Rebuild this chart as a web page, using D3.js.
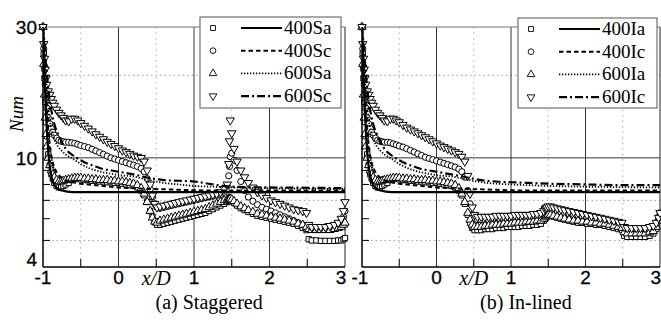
<!DOCTYPE html>
<html><head><meta charset="utf-8">
<script src="https://cdn.jsdelivr.net/npm/d3@7"></script>
<style>body{margin:0;background:#fff} svg{display:block}</style>
</head><body><svg id="c" width="661" height="320"></svg>
<script>
// ---------- axes / ticks ----------
const xTickLabels = [-1, 0, 1, 2, 3];
const yTickLabels = [4, 10, 30];
const yMinorTicks = [5, 6, 7, 8, 9, 20];
const yDotGrid = [5, 7, 20];
const ySolidGrid = [10];
const xSolidGrid = [0, 1, 2];
const xHalfTicks = [-0.5, 0.5, 1.5, 2.5];
const seriesA = ["400Sa", "400Sc", "600Sa", "600Sc"];
const seriesB = ["400Ia", "400Ic", "600Ia", "600Ic"];

// ---------- symbol data: shared x positions ----------
const xGrid = [-1,-0.99,-0.98,-0.97,-0.96,-0.95,-0.93,-0.91,-0.89,-0.87,-0.85,-0.82,-0.79,-0.76,-0.73,-0.7,
 -0.66,-0.62,-0.58,-0.54,-0.5,-0.45,-0.4,-0.35,-0.3,-0.25,-0.2,-0.15,-0.1,-0.05,
 0,0.05,0.1,0.15,0.2,0.25,0.3,0.34,0.38,0.42,0.45,0.48,0.51,
 0.55,0.6,0.65,0.7,0.75,0.8,0.85,0.9,0.95,1.0,1.05,1.1,1.15,1.2,1.25,1.3,1.35,1.4,
 1.44,1.46,1.47,1.48,1.5,1.53,1.57,1.62,1.67,1.72,
 1.78,1.84,1.9,1.96,2.02,2.08,2.14,2.2,2.26,2.32,2.38,2.44,2.49,
 2.52,2.56,2.62,2.68,2.74,2.8,2.86,2.91,2.95,2.98,3.0];

// (a) Staggered
const a_400Sa = [30,24,19.5,16,13.5,12,10.3,9.4,8.8,8.4,8.1,7.9,7.8,7.8,7.9,8.0,
 8.1,8.3,8.4,8.4,8.35,8.3,8.3,8.25,8.25,8.2,8.2,8.15,8.15,8.1,
 8.1,8.05,8.0,7.95,7.9,7.8,7.6,7.3,6.9,6.4,6.1,5.85,5.7,
 5.7,5.75,5.8,5.85,5.9,5.95,6.0,6.05,6.1,6.15,6.2,6.25,6.3,6.4,6.5,6.6,6.7,6.8,
 6.9,6.95,7.0,7.0,6.95,6.85,6.7,6.55,6.45,6.35,
 6.25,6.15,6.1,6.05,6.0,5.95,5.9,5.85,5.8,5.75,5.65,5.55,5.45,
 5.05,5.0,5.0,4.98,4.98,4.98,4.98,5.0,5.0,5.05,5.1];
const a_400Sc = [30,25,21,18.5,16.5,15.2,14,13.3,12.8,12.4,12.1,11.8,11.6,11.5,11.45,11.4,
 11.4,11.35,11.3,11.2,11.1,11.0,10.9,10.75,10.6,10.45,10.3,10.15,10.0,9.9,
 9.8,9.7,9.6,9.5,9.4,9.3,9.15,8.9,8.4,7.7,7.2,6.8,6.6,
 6.55,6.6,6.65,6.7,6.75,6.8,6.85,6.9,6.95,7.0,7.05,7.1,7.15,7.2,7.25,7.3,7.35,7.5,
 7.9,8.6,9.3,10.1,10.4,9.8,9.0,8.2,7.6,7.2,
 6.95,6.75,6.6,6.5,6.4,6.3,6.2,6.1,6.0,5.9,5.8,5.7,5.6,
 5.55,5.55,5.55,5.55,5.6,5.6,5.65,5.7,5.85,6.1,6.4];
const a_600Sa = [30,22,17,14,12.2,11,10,9.4,9.0,8.7,8.5,8.3,8.2,8.2,8.25,8.3,
 8.35,8.4,8.45,8.45,8.45,8.4,8.4,8.35,8.35,8.3,8.3,8.3,8.25,8.25,
 8.2,8.2,8.15,8.1,8.05,7.95,7.75,7.4,6.9,6.4,6.05,5.85,5.8,
 5.9,5.95,6.0,6.05,6.1,6.15,6.2,6.25,6.3,6.35,6.4,6.45,6.5,6.6,6.7,6.8,6.9,7.0,
 7.05,7.1,7.1,7.1,7.05,6.95,6.8,6.65,6.55,6.45,
 6.35,6.25,6.2,6.15,6.1,6.05,6.0,5.95,5.9,5.85,5.75,5.7,5.6,
 5.5,5.45,5.45,5.45,5.45,5.45,5.5,5.55,5.6,5.7,5.8];
const a_600Sc = [30,26,23,21,19.5,18.5,17.5,17,16.4,15.9,15.5,15.0,14.6,14.3,14.0,13.7,
 13.6,13.9,13.9,13.7,13.4,13.1,12.8,12.5,12.2,11.95,11.7,11.45,11.25,11.05,
 10.85,10.65,10.5,10.35,10.2,10.1,10.0,9.7,9.0,8.0,7.3,6.8,6.6,
 6.65,6.7,6.75,6.8,6.85,6.9,6.95,7.0,7.05,7.1,7.15,7.2,7.25,7.3,7.35,7.4,7.5,7.7,
 8.0,9.5,11.5,13.7,12.3,10.8,9.7,9.0,8.5,8.1,
 7.8,7.5,7.3,7.15,7.0,6.9,6.8,6.7,6.6,6.5,6.45,6.4,6.3,
 5.7,5.6,5.6,5.6,5.6,5.65,5.7,5.8,6.0,6.4,6.9];

// (b) In-lined
const b_400Ia = [30,24,19.5,16,13.5,12,10.3,9.4,8.8,8.4,8.1,7.9,7.8,7.8,7.9,8.0,
 8.1,8.3,8.4,8.4,8.35,8.3,8.3,8.25,8.25,8.2,8.2,8.15,8.15,8.1,
 8.1,8.05,8.0,7.95,7.9,7.8,7.6,7.3,6.8,6.2,5.8,5.55,5.45,
 5.45,5.45,5.5,5.5,5.5,5.55,5.55,5.55,5.6,5.6,5.6,5.6,5.65,5.65,5.65,5.7,5.7,5.75,
 5.9,6.0,6.05,6.1,6.15,6.15,6.1,6.05,6.0,5.95,
 5.9,5.85,5.8,5.8,5.75,5.75,5.7,5.7,5.65,5.6,5.55,5.5,5.45,
 5.2,5.15,5.15,5.15,5.15,5.15,5.2,5.3,5.5,5.9,6.3];
const b_400Ic = [30,25,21,18.5,16.5,15.2,14,13.3,12.8,12.4,12.1,11.8,11.6,11.5,11.45,11.4,
 11.4,11.35,11.25,11.15,11.05,10.95,10.8,10.65,10.5,10.35,10.2,10.05,9.95,9.85,
 9.75,9.65,9.55,9.45,9.35,9.25,9.1,8.9,8.5,7.6,6.8,6.2,6.0,
 5.95,5.95,5.95,5.95,6.0,6.0,6.0,6.0,6.0,6.0,6.05,6.05,6.05,6.05,6.05,6.1,6.1,6.1,
 6.2,6.35,6.4,6.45,6.5,6.5,6.45,6.4,6.35,6.3,
 6.25,6.2,6.15,6.1,6.05,6.0,5.95,5.9,5.85,5.8,5.75,5.7,5.65,
 5.5,5.45,5.45,5.45,5.45,5.45,5.5,5.55,5.7,5.95,6.2];
const b_600Ia = [30,22,17,14,12.2,11,10,9.4,9.0,8.7,8.5,8.3,8.2,8.2,8.25,8.3,
 8.35,8.4,8.45,8.45,8.45,8.4,8.4,8.35,8.35,8.3,8.3,8.3,8.25,8.25,
 8.2,8.2,8.15,8.1,8.05,7.95,7.75,7.4,6.9,6.3,5.95,5.7,5.6,
 5.6,5.6,5.65,5.65,5.7,5.7,5.7,5.75,5.75,5.75,5.8,5.8,5.8,5.85,5.85,5.85,5.9,5.9,
 6.0,6.1,6.15,6.2,6.2,6.2,6.15,6.1,6.05,6.0,
 5.95,5.9,5.9,5.85,5.85,5.8,5.8,5.75,5.75,5.7,5.65,5.6,5.55,
 5.35,5.3,5.3,5.3,5.3,5.3,5.35,5.4,5.6,5.9,6.2];
const b_600Ic = [30,26,23,21,19.5,18.5,17.5,17,16.4,15.9,15.5,15.0,14.6,14.3,14.0,13.7,
 13.6,13.9,13.9,13.7,13.5,13.2,12.9,12.7,12.5,12.3,12.1,11.9,11.7,11.5,
 11.3,11.1,10.95,10.8,10.65,10.5,10.35,10.1,9.7,8.6,7.4,6.6,6.2,
 6.1,6.1,6.1,6.1,6.1,6.15,6.15,6.15,6.15,6.15,6.2,6.2,6.2,6.2,6.2,6.25,6.25,6.3,
 6.4,6.5,6.55,6.6,6.65,6.65,6.6,6.55,6.5,6.45,
 6.4,6.35,6.3,6.25,6.2,6.15,6.1,6.05,6.0,5.95,5.9,5.85,5.8,
 5.6,5.55,5.55,5.55,5.55,5.55,5.6,5.65,5.8,6.05,6.3];

// ---------- line data ----------
const lineX = [-1,-0.98,-0.96,-0.94,-0.92,-0.9,-0.87,-0.84,-0.8,-0.75,-0.7,-0.6,-0.5,-0.4,-0.3,-0.2,-0.1,0,0.2,0.4,0.6,0.8,1.0,1.25,1.5,2.0,2.5,3.0];
const a_400Sa_line = [30,20,14.5,11.5,9.8,8.9,8.2,7.9,7.7,7.6,7.55,7.5,7.5,7.5,7.5,7.5,7.5,7.5,7.5,7.5,7.5,7.5,7.5,7.5,7.5,7.5,7.5,7.5];
const a_400Sc_line = [30,22,17,13.8,11.8,10.6,9.6,9.1,8.7,8.45,8.3,8.15,8.05,8.0,7.95,7.9,7.85,7.8,7.75,7.7,7.68,7.65,7.62,7.6,7.6,7.6,7.6,7.6];
const a_600Sa_line = [30,24,19.5,16.5,14.5,13.2,12.2,11.5,11.0,10.6,10.3,9.9,9.5,9.2,9.0,8.85,8.75,8.65,8.55,8.3,8.1,8.0,7.9,7.85,7.8,7.75,7.72,7.7];
const a_600Sc_line = [30,26,22,19,17,15.5,14,13,12.2,11.4,10.8,10.2,9.8,9.5,9.3,9.1,9.0,8.9,8.7,8.45,8.3,8.25,8.2,8.0,7.85,7.8,7.78,7.75];
const b_400Ia_line = [30,20,14.5,11.5,9.8,8.9,8.2,7.9,7.7,7.6,7.55,7.5,7.5,7.5,7.5,7.5,7.5,7.5,7.5,7.5,7.5,7.5,7.5,7.5,7.5,7.5,7.5,7.5];
const b_400Ic_line = [30,22,17,13.8,11.8,10.6,9.6,9.1,8.7,8.45,8.3,8.15,8.05,8.0,7.95,7.9,7.85,7.8,7.75,7.7,7.68,7.65,7.62,7.6,7.6,7.6,7.6,7.6];
const b_600Ia_line = [30,24,19.5,16.5,14.5,13.2,12.2,11.5,11.0,10.6,10.3,9.9,9.5,9.2,9.0,8.85,8.75,8.65,8.55,8.35,8.15,8.05,8.0,7.95,7.9,7.85,7.82,7.8];
const b_600Ic_line = [30,26,22,19,17,15.5,14,13,12.2,11.4,10.8,10.2,9.8,9.5,9.3,9.1,9.0,8.9,8.7,8.5,8.3,8.2,8.15,8.1,8.05,8.0,7.95,7.95];

// ---------- drawing ----------
const svg = d3.select('#c');
const SANS = "'Liberation Sans', Arial, sans-serif";
const SERIF = "'Liberation Serif', 'Times New Roman', serif";
const yTop = 27, yBot = 267;
const yScale = d3.scaleLog().domain([4, 30]).range([yBot, yTop]);
const dashes = [null, "4.5,3", "1.3,1.7", "8,3,2,3"];
const widths = [2.2, 2, 1.8, 2.2];
const symTypes = [d3.symbolSquare, d3.symbolCircle, d3.symbolTriangle, d3.symbolTriangle];
const symSizes = [28, 30, 30, 30];
const symRot = [0, 0, 0, 180];

const panels = [
  {x0: 43, x1: 345, names: seriesA, sym: [a_400Sa, a_400Sc, a_600Sa, a_600Sc],
   lines: [a_400Sa_line, a_400Sc_line, a_600Sa_line, a_600Sc_line], caption: "(a) Staggered",
   leg: {x: 200, y: 17, w: 141, h: 91}, yLab: true, id: "a"},
  {x0: 362, x1: 660, names: seriesB, sym: [b_400Ia, b_400Ic, b_600Ia, b_600Ic],
   lines: [b_400Ia_line, b_400Ic_line, b_600Ia_line, b_600Ic_line], caption: "(b) In-lined",
   leg: {x: 518, y: 18, w: 139, h: 90}, yLab: false, id: "b"}
];

panels.forEach(p => {
  const xs = d3.scaleLinear().domain([-1, 3]).range([p.x0, p.x1]);
  const g = svg.append('g');
  const clipId = 'clip' + p.id;
  svg.append('clipPath').attr('id', clipId).append('rect')
    .attr('x', p.x0).attr('y', yTop).attr('width', p.x1 - p.x0).attr('height', yBot - yTop);

  // dotted grid
  yDotGrid.forEach(v => g.append('line').attr('x1', p.x0).attr('x2', p.x1)
    .attr('y1', yScale(v)).attr('y2', yScale(v))
    .attr('stroke', '#999').attr('stroke-width', 1).attr('stroke-dasharray', '1.5,3'));
  xHalfTicks.forEach(v => g.append('line').attr('x1', xs(v)).attr('x2', xs(v))
    .attr('y1', yTop).attr('y2', yBot)
    .attr('stroke', '#aaa').attr('stroke-width', 1).attr('stroke-dasharray', '1.5,4'));
  // solid grid
  ySolidGrid.forEach(v => g.append('line').attr('x1', p.x0).attr('x2', p.x1)
    .attr('y1', yScale(v)).attr('y2', yScale(v)).attr('stroke', '#333').attr('stroke-width', 1));
  xSolidGrid.forEach(v => g.append('line').attr('x1', xs(v)).attr('x2', xs(v))
    .attr('y1', yTop).attr('y2', yBot).attr('stroke', '#333').attr('stroke-width', 1));

  // frame
  g.append('line').attr('x1', p.x0).attr('x2', p.x1).attr('y1', yTop).attr('y2', yTop)
    .attr('stroke', '#777').attr('stroke-width', 1);
  g.append('line').attr('x1', p.x1).attr('x2', p.x1).attr('y1', yTop).attr('y2', yBot)
    .attr('stroke', '#222').attr('stroke-width', 1);

  // symbols
  p.sym.forEach((ser, si) => {
    const sym = d3.symbol().type(symTypes[si]).size(symSizes[si]);
    g.append('g').selectAll('path').data(ser.map((v, i) => [xGrid[i], v])).join('path')
      .attr('d', sym)
      .attr('transform', d => `translate(${xs(d[0])},${yScale(d[1])}) rotate(${symRot[si]})`)
      .attr('fill', '#fff').attr('stroke', '#000').attr('stroke-width', 1);
  });

  // lines
  const lg = g.append('g').attr('clip-path', `url(#${clipId})`);
  p.lines.forEach((ser, li) => {
    const line = d3.line().x((d, i) => xs(lineX[i])).y(d => yScale(d)).curve(d3.curveMonotoneX);
    lg.append('path').attr('d', line(ser)).attr('fill', 'none').attr('stroke', '#000')
      .attr('stroke-width', widths[li]).attr('stroke-dasharray', dashes[li]);
  });

  // axes lines
  g.append('line').attr('x1', p.x0).attr('x2', p.x0).attr('y1', yTop).attr('y2', yBot)
    .attr('stroke', '#000').attr('stroke-width', 1.5);
  g.append('line').attr('x1', p.x0).attr('x2', p.x1).attr('y1', yBot).attr('y2', yBot)
    .attr('stroke', '#000').attr('stroke-width', 1.5);
  // minor ticks
  yMinorTicks.forEach(v => g.append('line').attr('x1', p.x0).attr('x2', p.x0 + 7)
    .attr('y1', yScale(v)).attr('y2', yScale(v)).attr('stroke', '#000').attr('stroke-width', 1));
  xHalfTicks.forEach(v => g.append('line').attr('x1', xs(v)).attr('x2', xs(v))
    .attr('y1', yBot).attr('y2', yBot - 8).attr('stroke', '#000').attr('stroke-width', 1));

  // x tick labels
  xTickLabels.forEach(v => {
    let x = xs(v), anchor = 'middle';
    if (v === 3 && p.id === 'a') x -= 4;
    if (v === -1 && p.id === 'b') x -= 2;
    if (v === 3 && p.id === 'b') { x = 661; anchor = 'end'; }
    g.append('text').attr('x', x).attr('y', 284).attr('text-anchor', anchor)
      .attr('font-family', SANS).attr('font-size', 19).attr('stroke', '#000').attr('stroke-width', 0.3).text(v);
  });
  g.append('text').attr('x', xs(0.5)).attr('y', 285).attr('text-anchor', 'middle')
    .attr('font-family', SERIF).attr('font-style', 'italic').attr('font-size', 20).text('x/D');
  g.append('text').attr('x', xs(1.2)).attr('y', 309).attr('text-anchor', 'middle')
    .attr('font-family', SERIF).attr('font-size', 20).text(p.caption);

  if (p.yLab) {
    yTickLabels.forEach(v => g.append('text').attr('x', 37)
      .attr('y', v === 4 ? yScale(v) - 1 : yScale(v) + 7)
      .attr('text-anchor', 'end').attr('font-family', SANS).attr('font-size', 19)
      .attr('stroke', '#000').attr('stroke-width', 0.3).text(v));
    g.append('text').attr('transform', 'translate(23,114) rotate(-90)').attr('text-anchor', 'middle')
      .attr('font-family', SERIF).attr('font-style', 'italic').attr('font-size', 19).text('Num');
  }

  // legend
  const L = p.leg;
  const leg = g.append('g');
  leg.append('rect').attr('x', L.x).attr('y', L.y).attr('width', L.w).attr('height', L.h)
    .attr('fill', '#fff').attr('stroke', '#555').attr('stroke-width', 1);
  p.names.forEach((n, i) => {
    const cy = L.y + 11 + i * 22.7;
    const sym = d3.symbol().type(symTypes[i]).size(symSizes[i] - 4);
    leg.append('path').attr('d', sym).attr('transform', `translate(${L.x + 13},${cy}) rotate(${symRot[i]})`)
      .attr('fill', '#fff').attr('stroke', '#000').attr('stroke-width', 0.9);
    leg.append('line').attr('x1', L.x + 41).attr('x2', L.x + 82).attr('y1', cy).attr('y2', cy)
      .attr('stroke', '#000').attr('stroke-width', widths[i]).attr('stroke-dasharray', dashes[i]);
    leg.append('text').attr('x', L.x + 84).attr('y', cy + 6).attr('font-family', SERIF)
      .attr('font-size', 19).text(n);
  });
});
</script></body></html>
